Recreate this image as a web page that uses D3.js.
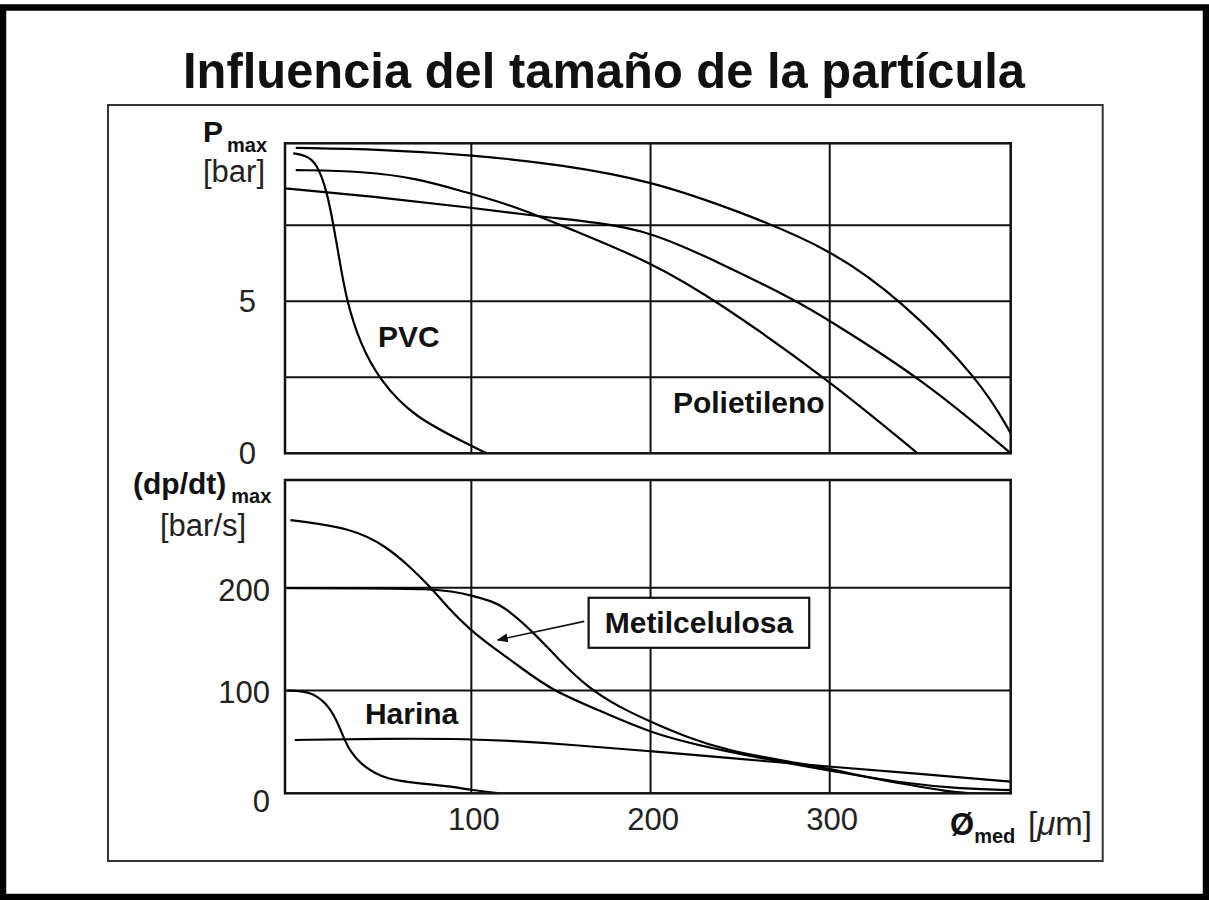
<!DOCTYPE html>
<html>
<head>
<meta charset="utf-8">
<script src="https://cdn.jsdelivr.net/npm/d3@7"></script>
<style>
  body { margin: 0; background: #fff; }
  svg { display: block; font-family: "Liberation Sans", Arial, Helvetica, sans-serif; }
</style>
</head>
<body>
<svg id="chart" width="1209" height="900"></svg>
<script>
// Ejes y rejilla
const xTicks = [100, 200, 300];
const pTicks = [0, 5];
const pGrid = [2.5, 5, 7.5];
const rTicks = [0, 100, 200];
const rGrid = [100, 200];

// Pmax [bar] frente a diámetro medio [µm]
const pvc = [[0.6,9.87],[8,9.8],[13.7,9.54],[19.3,8.66],[23.3,7.43],[26.7,6.26],[30.4,5.02],[37.8,3.62],[49,2.39],[67.6,1.2],[99.2,0.27],[108.5,0]];
const poliA = [[2,10.05],[50,10.0],[100,9.82],[150,9.5],[200,8.97],[250,7.95],[300,6.74],[340,5.04],[384,2.41],[401,0.66]];
const poliB = [[2,9.32],[40,9.28],[70,9.05],[99,8.55],[116,8.28],[140,7.75],[153,7.43],[200,6.3],[237.5,5.0],[300,2.39],[349,0]];
const poliC = [[-4,8.72],[50,8.42],[100,8.08],[140,7.78],[170,7.6],[200,7.3],[239,6.26],[282,5.0],[299,4.4],[353,2.39],[401,0]];

// (dp/dt)max [bar/s] frente a diámetro medio [µm]
const metilD = [[-1,266],[34,258],[52.7,240],[65.7,220.6],[77.9,199.6],[86.2,182],[99.2,159],[114,139.5],[127,123.3],[144.5,100.6],[171,81],[200,58.4],[237,42.2],[299,22],[345,9],[370,5],[401,3]];
const metilE = [[-3,199.6],[40,199.6],[77.9,199],[89.9,196.3],[99.6,193],[112,186.6],[118,181.7],[133.5,159],[149,129.8],[164.4,103.8],[182,84.3],[200,69.7],[219.6,55.1],[241.7,42.2],[277,30.8],[299,24.3],[320,16],[345,8],[365,2],[378,0]];
const curvaF = [[1.5,51.9],[50,53.3],[99.6,53],[127,50.5],[150,48],[200,41],[250,33.5],[299,26],[350,19],[401,11.3]];
const harina = [[-3,100],[9.9,99.5],[19.3,87.6],[24.8,71.4],[28.5,55.1],[32.3,40.5],[39.7,25.9],[52.7,13],[71.3,9.7],[89.9,6.4],[99.6,3.2],[116,0]];

// Etiquetas (posición en unidades de datos)
const etiquetasP = [{t: "PVC", x: 47.9, y: 3.5}, {t: "Polietileno", x: 212.5, y: 1.33}];
const etiquetasR = [{t: "Harina", x: 40.6, y: 67}];
const metilBox = {t: "Metilcelulosa", x: 227, y: 166};
const flecha = [[163, 167.4], [114.7, 149.3]];

const svg = d3.select("#chart");

// Marcos
svg.append("rect")
  .attr("x", 3).attr("y", 7.5).attr("width", 1203).attr("height", 889.5)
  .attr("fill", "#fff").attr("stroke", "#000").attr("stroke-width", 6.5);
svg.append("rect")
  .attr("x", 108).attr("y", 105).attr("width", 994.7).attr("height", 756)
  .attr("fill", "none").attr("stroke", "#333").attr("stroke-width", 2);

// Título
svg.append("text")
  .attr("x", 604).attr("y", 88)
  .attr("text-anchor", "middle")
  .attr("font-size", 50).attr("font-weight", "bold")
  .attr("textLength", 842).attr("lengthAdjust", "spacingAndGlyphs")
  .attr("fill", "#111")
  .text("Influencia del tamaño de la partícula");

const x = d3.scaleLinear().domain([-4, 401]).range([285, 1010.7]);
const yP = d3.scaleLinear().domain([0, 10.2]).range([453.3, 143.3]);
const yR = d3.scaleLinear().domain([0, 305]).range([793.3, 480]);

function panel(y, grid, series, id) {
  const g = svg.append("g");
  const [y0, y1] = y.range();
  const [x0, x1] = x.range();

  g.append("clipPath").attr("id", id).append("rect")
    .attr("x", x0).attr("y", y1).attr("width", x1 - x0).attr("height", y0 - y1);

  // rejilla
  g.selectAll("line.v").data(xTicks).enter().append("line")
    .attr("x1", d => x(d)).attr("x2", d => x(d))
    .attr("y1", y0).attr("y2", y1)
    .attr("stroke", "#111").attr("stroke-width", 2);
  g.selectAll("line.h").data(grid).enter().append("line")
    .attr("x1", x0).attr("x2", x1)
    .attr("y1", d => y(d)).attr("y2", d => y(d))
    .attr("stroke", "#111").attr("stroke-width", 2);

  // curvas
  const line = d3.line().x(d => x(d[0])).y(d => y(d[1])).curve(d3.curveBasis);
  g.append("g").attr("clip-path", `url(#${id})`)
    .selectAll("path").data(series).enter().append("path")
    .attr("d", line)
    .attr("fill", "none").attr("stroke", "#000").attr("stroke-width", 2.2);

  // marco
  g.append("rect")
    .attr("x", x0).attr("y", y1).attr("width", x1 - x0).attr("height", y0 - y1)
    .attr("fill", "none").attr("stroke", "#111").attr("stroke-width", 2.5);
}

panel(yP, pGrid, [pvc, poliA, poliB, poliC], "clipP");
panel(yR, rGrid, [metilD, metilE, curvaF, harina], "clipR");

function estiloEje(g) {
  g.select(".domain").remove();
  g.attr("font-size", 31).attr("font-family", null);
  g.selectAll("text").attr("fill", "#222");
}

// Ejes Y
svg.append("g")
  .attr("transform", `translate(${x.range()[0]},0)`)
  .call(d3.axisLeft(yP).tickValues(pTicks).tickSize(0).tickPadding(29))
  .call(estiloEje);

svg.append("g")
  .attr("transform", `translate(${x.range()[0]},0)`)
  .call(d3.axisLeft(yR).tickValues(rTicks).tickSize(0).tickPadding(15))
  .call(estiloEje)
  .selectAll("text").attr("dy", d => d === 0 ? "0.58em" : "0.4em");

// Eje X
svg.append("g")
  .attr("transform", `translate(2,${yR.range()[0]})`)
  .call(d3.axisBottom(x).tickValues(xTicks).tickSize(0).tickPadding(15))
  .call(estiloEje);

// Títulos de ejes
const tP = svg.append("text").attr("x", 203).attr("y", 141.7).attr("fill", "#111");
tP.append("tspan").attr("font-size", 30).attr("font-weight", "bold").text("P");
tP.append("tspan").attr("font-size", 20).attr("font-weight", "bold").attr("dx", 4).attr("dy", 10).text("max");
svg.append("text").attr("x", 203).attr("y", 182).attr("font-size", 31).attr("fill", "#222").text("[bar]");

const tR = svg.append("text").attr("x", 133).attr("y", 494).attr("fill", "#111");
tR.append("tspan").attr("font-size", 30).attr("font-weight", "bold").text("(dp/dt)");
tR.append("tspan").attr("font-size", 20).attr("font-weight", "bold").attr("dx", 5).attr("dy", 9).text("max");
svg.append("text").attr("x", 160).attr("y", 536).attr("font-size", 31).attr("fill", "#222").text("[bar/s]");

const tX = svg.append("text").attr("x", 950).attr("y", 835).attr("fill", "#111");
tX.append("tspan").attr("font-size", 31).attr("font-weight", "bold").text("Ø");
tX.append("tspan").attr("font-size", 20).attr("font-weight", "bold").attr("dy", 8).text("med");
tX.append("tspan").attr("font-size", 33).attr("x", 1028).attr("dy", -8).attr("fill", "#222").text("[");
tX.append("tspan").attr("font-size", 33).attr("font-style", "italic").attr("fill", "#222").text("μ");
tX.append("tspan").attr("font-size", 33).attr("fill", "#222").text("m]");

// Etiquetas de curvas
svg.selectAll("text.lp").data(etiquetasP).enter().append("text")
  .attr("x", d => x(d.x)).attr("y", d => yP(d.y))
  .attr("font-size", 30).attr("font-weight", "bold").attr("fill", "#111")
  .text(d => d.t);
svg.selectAll("text.lr").data(etiquetasR).enter().append("text")
  .attr("x", d => x(d.x)).attr("y", d => yR(d.y))
  .attr("font-size", 30).attr("font-weight", "bold").attr("fill", "#111")
  .text(d => d.t);

// Flecha y caja Metilcelulosa
svg.append("defs").append("marker")
  .attr("id", "punta").attr("viewBox", "0 0 10 10")
  .attr("refX", 9).attr("refY", 5)
  .attr("markerWidth", 7).attr("markerHeight", 7)
  .attr("orient", "auto")
  .append("path").attr("d", "M0,1 L10,5 L0,9 Z").attr("fill", "#111");

svg.append("line")
  .attr("x1", x(flecha[0][0])).attr("y1", yR(flecha[0][1]))
  .attr("x2", x(flecha[1][0])).attr("y2", yR(flecha[1][1]))
  .attr("stroke", "#111").attr("stroke-width", 1.6)
  .attr("marker-end", "url(#punta)");

const bx = x(metilBox.x), by = yR(metilBox.y);
svg.append("rect")
  .attr("x", bx - 110.3).attr("y", by - 25).attr("width", 220.6).attr("height", 50)
  .attr("fill", "#fff").attr("stroke", "#111").attr("stroke-width", 2.2);
svg.append("text")
  .attr("x", bx).attr("y", by + 10.5)
  .attr("text-anchor", "middle")
  .attr("font-size", 30).attr("font-weight", "bold").attr("fill", "#111")
  .text(metilBox.t);
</script>
</body>
</html>
